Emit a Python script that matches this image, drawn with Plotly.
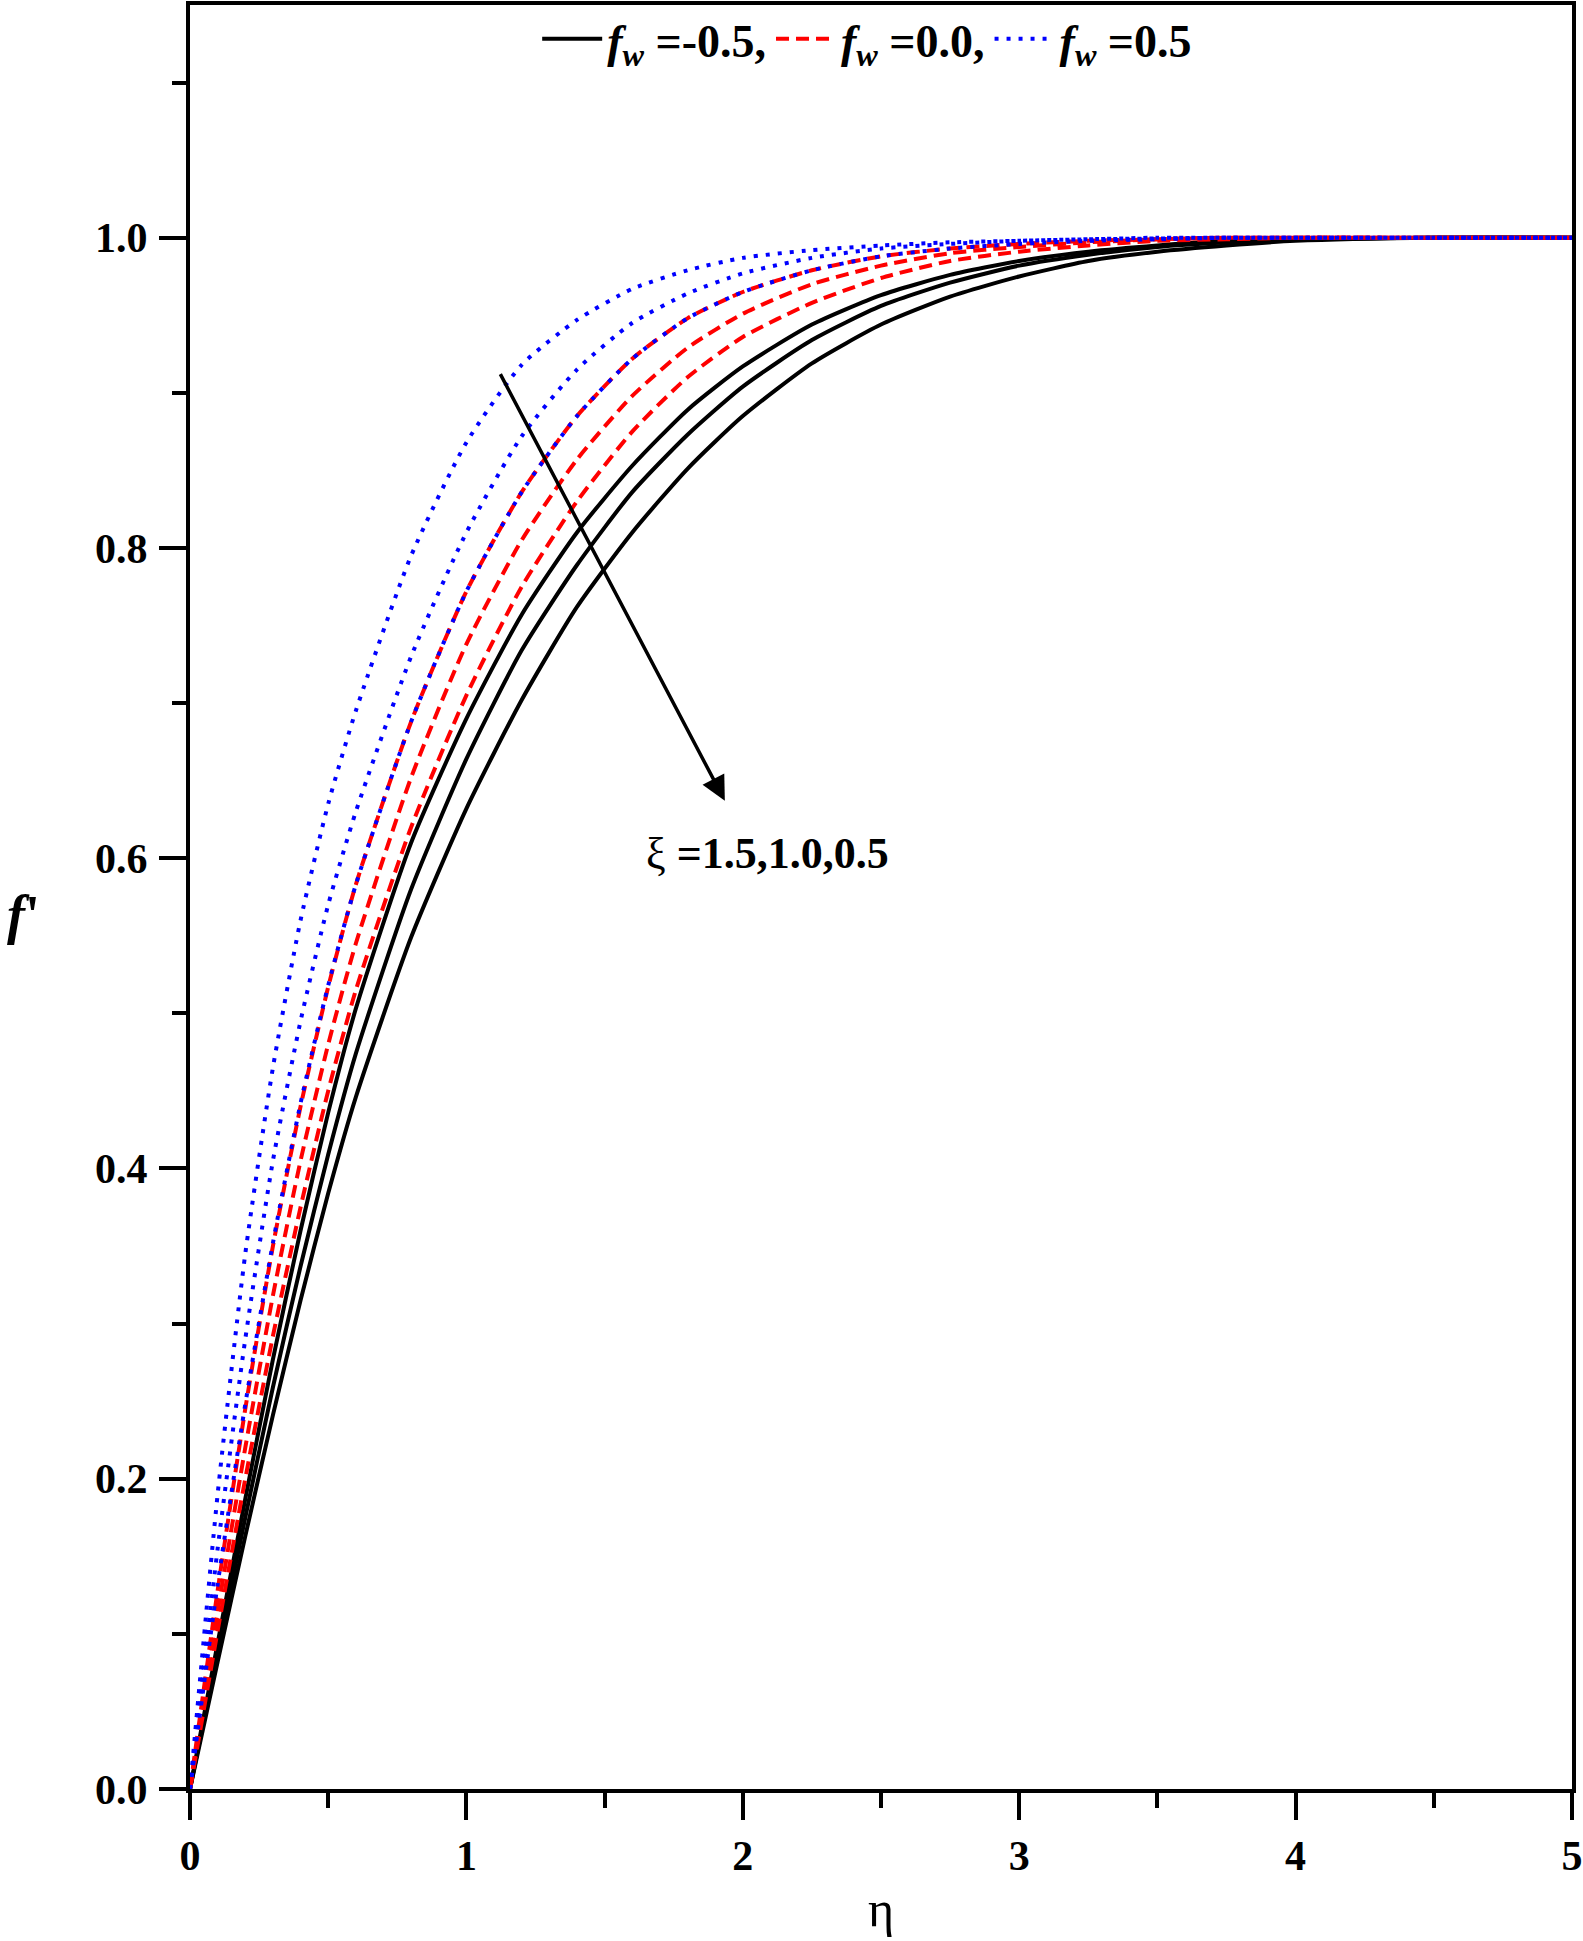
import plotly.graph_objects as go

# eta grid (x-axis)
eta = [0, 0.1, 0.2, 0.3, 0.4, 0.5, 0.6, 0.8, 1.0, 1.2, 1.4, 1.6, 1.8, 2.0,
       2.25, 2.5, 2.75, 3.0, 3.25, 3.5, 3.75, 4.0, 4.5, 5.0]

# f' values
# fw = -0.5 (black, solid)
fm05_xi15 = [0, 0.094, 0.187, 0.277, 0.360, 0.436, 0.503, 0.610, 0.690, 0.757, 0.810, 0.853, 0.889, 0.917,
             0.944, 0.963, 0.976, 0.985, 0.991, 0.995, 0.998, 0.999, 1.0, 1.0]
fm05_xi10 = [0, 0.088, 0.175, 0.259, 0.337, 0.409, 0.474, 0.580, 0.664, 0.734, 0.789, 0.836, 0.873, 0.904,
             0.934, 0.956, 0.971, 0.982, 0.989, 0.994, 0.997, 0.999, 1.0, 1.0]
fm05_xi05 = [0, 0.082, 0.163, 0.241, 0.315, 0.384, 0.446, 0.549, 0.632, 0.702, 0.762, 0.810, 0.851, 0.885,
             0.919, 0.944, 0.962, 0.975, 0.985, 0.991, 0.995, 0.998, 1.0, 1.0]
# fw = 0.0 (red, dashed)
f00_xi15 = [0, 0.128, 0.245, 0.350, 0.440, 0.517, 0.583, 0.688, 0.772, 0.836, 0.885, 0.922, 0.948, 0.965,
            0.979, 0.988, 0.993, 0.996, 0.998, 0.999, 1.0, 1.0, 1.0, 1.0]
f00_xi10 = [0, 0.114, 0.220, 0.318, 0.405, 0.480, 0.545, 0.652, 0.738, 0.805, 0.857, 0.898, 0.929, 0.951,
            0.970, 0.982, 0.990, 0.994, 0.997, 0.999, 1.0, 1.0, 1.0, 1.0]
f00_xi05 = [0, 0.102, 0.200, 0.292, 0.375, 0.450, 0.515, 0.620, 0.705, 0.775, 0.830, 0.875, 0.910, 0.936,
            0.958, 0.974, 0.985, 0.991, 0.995, 0.998, 0.999, 1.0, 1.0, 1.0]
# fw = 0.5 (blue, dotted)
fp05_xi15 = [0, 0.190, 0.345, 0.465, 0.560, 0.635, 0.695, 0.795, 0.868, 0.918, 0.947, 0.967, 0.979, 0.987,
             0.992, 0.995, 0.997, 0.998, 0.999, 0.9995, 1.0, 1.0, 1.0, 1.0]
fp05_xi10 = [0, 0.155, 0.290, 0.405, 0.495, 0.570, 0.630, 0.730, 0.810, 0.872, 0.915, 0.945, 0.964, 0.977,
             0.987, 0.993, 0.996, 0.998, 0.999, 1.0, 1.0, 1.0, 1.0, 1.0]
fp05_xi05 = [0, 0.132, 0.248, 0.352, 0.442, 0.518, 0.583, 0.688, 0.772, 0.836, 0.885, 0.922, 0.948, 0.965,
             0.979, 0.988, 0.993, 0.996, 0.998, 0.999, 1.0, 1.0, 1.0, 1.0]

x_ticks = [0, 1, 2, 3, 4, 5]
y_ticks = [0.0, 0.2, 0.4, 0.6, 0.8, 1.0]
legend_labels = ["<b><i>f</i><sub><i>w</i></sub> =-0.5,</b>",
                 "<b><i>f</i><sub><i>w</i></sub> =0.0,</b>",
                 "<b><i>f</i><sub><i>w</i></sub> =0.5</b>"]

FONT = "Liberation Serif"
LW = 4

groups = [
    (legend_labels[0], "#000000", "solid", [fm05_xi15, fm05_xi10, fm05_xi05]),
    (legend_labels[1], "#ff0000", "13px,7px", [f00_xi15, f00_xi10, f00_xi05]),
    (legend_labels[2], "#0000ff", "4px,8px", [fp05_xi15, fp05_xi10, fp05_xi05]),
]

fig = go.Figure()
for label, color, dash, series in groups:
    for i, ys in enumerate(series):
        fig.add_trace(go.Scatter(
            x=eta, y=ys, mode="lines", name=label,
            line=dict(color=color, width=LW, dash=dash, shape="spline", smoothing=0.6),
            showlegend=(i == 0), legendgroup=label,
        ))

fig.add_annotation(x=1.935, y=0.637, ax=1.12, ay=0.913, xref="x", yref="y",
                   axref="x", ayref="y", text="", showarrow=True,
                   arrowhead=2, arrowsize=1.4, arrowwidth=3.5, arrowcolor="#000000")
fig.add_annotation(x=2.09, y=0.603, xref="x", yref="y", showarrow=False,
                   text="ξ <b>=1.5,1.0,0.5</b>",
                   font=dict(family=FONT, size=44, color="#000000"))
# y-axis title (horizontal, as in the reference)
fig.add_annotation(x=-0.134, y=0.49, xref="paper", yref="paper", showarrow=False,
                   text="<b><i>f</i>'</b>",
                   font=dict(family=FONT, size=54, color="#000000"))

axis_common = dict(
    showline=True, linewidth=LW, linecolor="#000000", mirror=True,
    ticks="outside", ticklen=27, tickwidth=LW, tickcolor="#000000",
    showgrid=False, zeroline=False, automargin=False,
    tickfont=dict(family=FONT, size=42, color="#000000", weight="bold"),
)

fig.update_layout(
    width=1583, height=1941,
    margin=dict(l=190, r=11, t=2, b=152),
    paper_bgcolor="white", plot_bgcolor="white",
    xaxis=dict(range=[0, 5], tickvals=x_ticks, ticktext=[str(v) for v in x_ticks],
               minor=dict(dtick=0.5, ticklen=15, tickwidth=LW, tickcolor="#000000", ticks="outside"),
               title=dict(text="η", font=dict(family=FONT, size=50, color="#000000"), standoff=14),
               **axis_common),
    yaxis=dict(range=[0, 1.15], tickvals=y_ticks, ticktext=[f"{v:.1f}" for v in y_ticks],
               minor=dict(dtick=0.1, ticklen=14, tickwidth=LW, tickcolor="#000000", ticks="outside"),
               ticklabelstandoff=3,
               **axis_common),
    legend=dict(orientation="h", x=0.49, y=0.981, xanchor="center", yanchor="middle",
                font=dict(family=FONT, size=46, color="#000000"),
                bgcolor="rgba(0,0,0,0)", itemwidth=60, tracegroupgap=0),
    showlegend=True,
)

fig.write_html("out.html")
